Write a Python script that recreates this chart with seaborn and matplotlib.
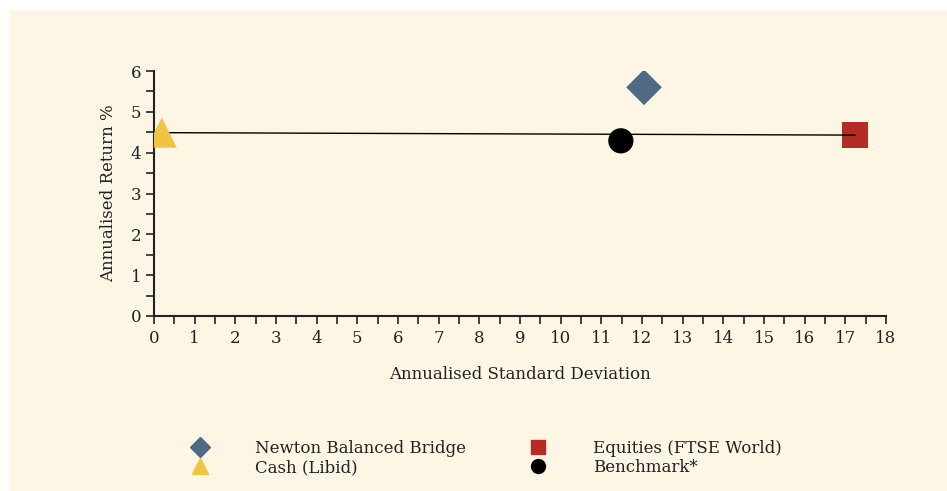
#!/usr/bin/env python3
"""Risk/return scatter: annualised return vs annualised standard deviation."""

import matplotlib
matplotlib.use("Agg")
import matplotlib.pyplot as plt
from matplotlib.patches import Rectangle
from matplotlib.ticker import MultipleLocator
import pandas as pd
import seaborn as sns

# data
names = ["Newton Balanced Bridge", "Cash (Libid)", "Equities (FTSE World)", "Benchmark*"]
std_dev = [12.05, 0.19, 17.24, 11.48]
ann_return = [5.6, 4.49, 4.43, 4.29]
markers = ["D", "^", "s", "o"]
colours = ["#4f6a82", "#f0c443", "#b52b25", "#000000"]
sizes = [330, 470, 330, 330]

# capital market line: cash -> equities
line_x = [std_dev[1], std_dev[2]]
line_y = [ann_return[1], ann_return[2]]

CREAM = "#fdf6e4"

sns.set_theme(style="ticks")
plt.rcParams["font.family"] = ["DejaVu Serif"]
plt.rcParams["font.size"] = 12

fig = plt.figure(figsize=(9.47, 4.91), dpi=100, facecolor="white")
fig.patches.append(Rectangle((10 / 947, 0), 1 - 10 / 947, 1 - 10 / 491,
                             transform=fig.transFigure,
                             facecolor=CREAM, edgecolor="none", zorder=-10))
ax = fig.add_axes([154 / 947, 1 - 316 / 491, 732 / 947, 245 / 491])
ax.set_facecolor(CREAM)

df = pd.DataFrame({"name": names, "sd": std_dev, "ret": ann_return})

sns.lineplot(x=line_x, y=line_y, ax=ax, color="black", linewidth=1, zorder=2)

handles = []
for i, row in df.iterrows():
    sns.scatterplot(data=df.iloc[[i]], x="sd", y="ret", ax=ax, marker=markers[i],
                    color=colours[i], s=sizes[i], edgecolor="none",
                    zorder=3 if i != 2 else 1)
    ms = {"D": 10, "^": 11, "s": 10, "o": 10}[markers[i]]
    handles.append(plt.Line2D([], [], linestyle="none", marker=markers[i],
                              color=colours[i], markersize=ms, label=names[i]))

ax.set_xlim(0, 18)
ax.set_ylim(0, 6)
ax.xaxis.set_major_locator(MultipleLocator(1))
ax.xaxis.set_minor_locator(MultipleLocator(0.5))
ax.yaxis.set_major_locator(MultipleLocator(1))
ax.yaxis.set_minor_locator(MultipleLocator(0.5))
ax.tick_params(which="both", direction="out", length=6, width=1.2, color="#222222",
               labelsize=12, labelcolor="#222222")
ax.tick_params(axis="x", pad=4)
ax.tick_params(axis="y", pad=3)
for s in ["top", "right"]:
    ax.spines[s].set_visible(False)
for s in ["left", "bottom"]:
    ax.spines[s].set_linewidth(1.5)
    ax.spines[s].set_color("#222222")

ax.set_xlabel("Annualised Standard Deviation", fontsize=12, color="#222222", labelpad=14)
ax.set_ylabel("Annualised Return %", fontsize=12, color="#222222", labelpad=10)

leg = fig.legend(handles=handles, ncol=2, loc="center", bbox_to_anchor=(0.514, 0.067),
                 frameon=False, fontsize=12, handletextpad=2.8, columnspacing=3.8,
                 labelspacing=0.1, handlelength=1.0)
for t in leg.get_texts():
    t.set_color("#222222")

fig.savefig("out.png", dpi=100, facecolor="white")
